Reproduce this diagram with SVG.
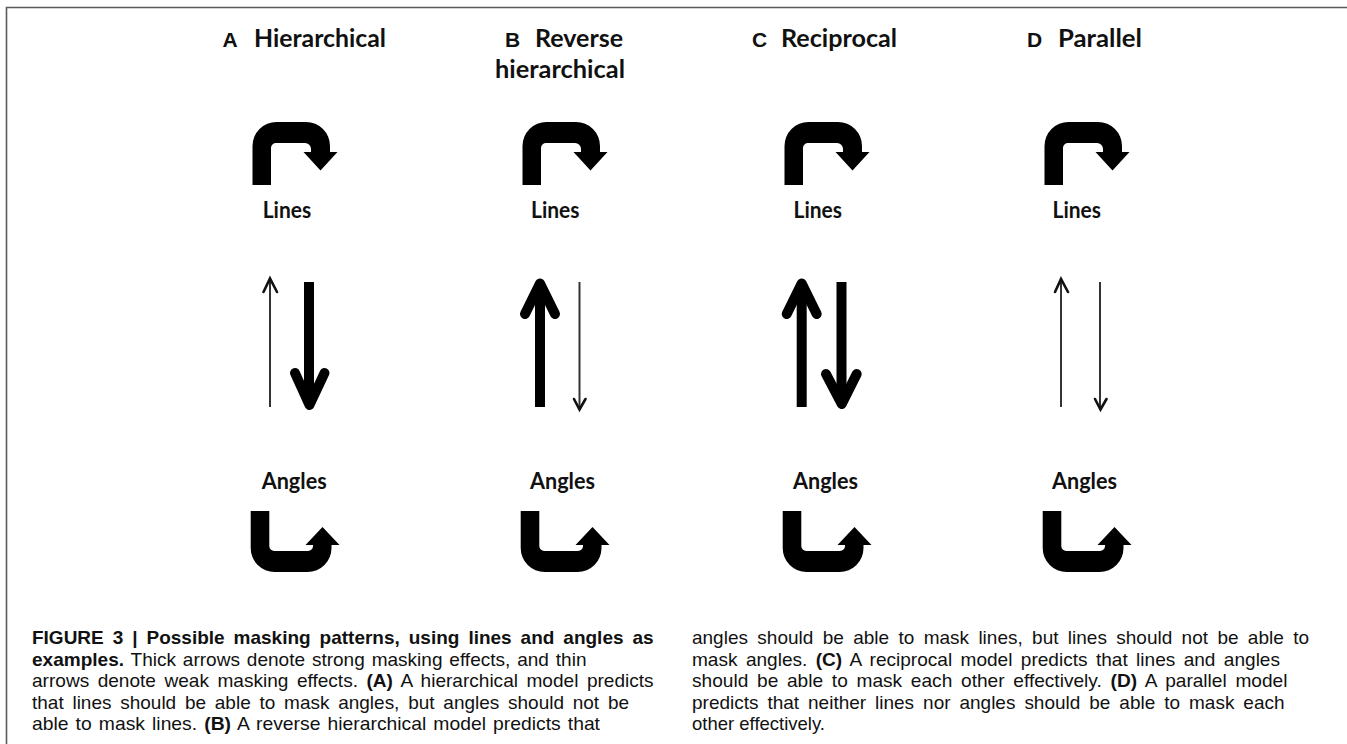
<svg xmlns="http://www.w3.org/2000/svg" xmlns:xlink="http://www.w3.org/1999/xlink" width="1347" height="744" viewBox="0 0 1347 744">
<style>
.frame{fill:none;stroke:#5a5a5a;stroke-width:1.6}
.lt{font-family:"Liberation Sans",Arial,sans-serif;font-weight:700;font-size:21px;fill:#111}
.tt{font-family:Lato,"Open Sans",sans-serif;font-weight:700;font-size:25px;fill:#111}
.nl{font-family:Lato,"Open Sans",sans-serif;font-weight:700;font-size:22px;fill:#111}
.shape{fill:#000}
.thick{fill:none;stroke:#000;stroke-width:10;stroke-linecap:butt}
.thickhead{fill:none;stroke:#000;stroke-width:10;stroke-linecap:round;stroke-linejoin:round}
.thin{fill:none;stroke:#333;stroke-width:2}
.thinhead{fill:none;stroke:#111;stroke-width:2.6;stroke-linecap:round;stroke-linejoin:miter}
.cap{font-family:"Liberation Sans",Arial,sans-serif;font-weight:400;font-size:19px;fill:#111}
.b{font-weight:700}
</style>
<defs>
<path id="turnTop" d="M 252.5 185 V 146 A 24 24 0 0 1 276.5 122 H 306 A 24 24 0 0 1 330 146 V 152 H 337.5 L 320.5 170.5 L 303.5 152 H 311 V 149 A 6 6 0 0 0 305 143 H 276 A 5 5 0 0 0 271 148 V 185 Z"/>
<path id="turnBot" d="M 250.7 511 V 548 A 24 24 0 0 0 274.7 572 H 307.5 A 24 24 0 0 0 331.5 548 V 545 H 339.5 L 322.5 527 L 305.5 545 H 313 V 546 A 5 5 0 0 1 308 551 H 274.3 A 5 5 0 0 1 269.3 546 V 511 Z"/>
</defs>
<rect x="0" y="0" width="1347" height="744" fill="#fff"/>
<path class="frame" d="M 6.5 744 V 7.5 H 1347"/>

<g id="panel-A">
<text class="lt" x="222.5" y="47">A</text>
<text class="tt" x="254" y="47" textLength="132" lengthAdjust="spacingAndGlyphs">Hierarchical</text>
</g>
<g id="panel-B">
<text class="lt" x="505" y="47">B</text>
<text class="tt" x="535" y="47" textLength="88" lengthAdjust="spacingAndGlyphs">Reverse</text>
<text class="tt" x="495" y="78" textLength="130" lengthAdjust="spacingAndGlyphs">hierarchical</text>
</g>
<g id="panel-C">
<text class="lt" x="752" y="47">C</text>
<text class="tt" x="781" y="47" textLength="116" lengthAdjust="spacingAndGlyphs">Reciprocal</text>
</g>
<g id="panel-D">
<text class="lt" x="1027" y="47">D</text>
<text class="tt" x="1058" y="47" textLength="84" lengthAdjust="spacingAndGlyphs">Parallel</text>
</g>

<g id="node-A-lines"><use xlink:href="#turnTop" class="shape"/><text class="nl" x="262.7" y="217.5" textLength="48.5" lengthAdjust="spacingAndGlyphs">Lines</text></g>
<g id="node-A-angles"><text class="nl" x="261.7" y="489" textLength="65" lengthAdjust="spacingAndGlyphs">Angles</text><use xlink:href="#turnBot" class="shape"/></g>
<g id="node-B-lines" transform="translate(270,0)"><use xlink:href="#turnTop" class="shape"/><text class="nl" x="261" y="217.5" textLength="48.5" lengthAdjust="spacingAndGlyphs">Lines</text></g>
<g id="node-B-angles" transform="translate(270,0)"><text class="nl" x="260" y="489" textLength="65" lengthAdjust="spacingAndGlyphs">Angles</text><use xlink:href="#turnBot" class="shape"/></g>
<g id="node-C-lines" transform="translate(532,0)"><use xlink:href="#turnTop" class="shape"/><text class="nl" x="261.5" y="217.5" textLength="48.5" lengthAdjust="spacingAndGlyphs">Lines</text></g>
<g id="node-C-angles" transform="translate(532,0)"><text class="nl" x="261" y="489" textLength="65" lengthAdjust="spacingAndGlyphs">Angles</text><use xlink:href="#turnBot" class="shape"/></g>
<g id="node-D-lines" transform="translate(792,0)"><use xlink:href="#turnTop" class="shape"/><text class="nl" x="260.5" y="217.5" textLength="48.5" lengthAdjust="spacingAndGlyphs">Lines</text></g>
<g id="node-D-angles" transform="translate(792,0)"><text class="nl" x="260" y="489" textLength="65" lengthAdjust="spacingAndGlyphs">Angles</text><use xlink:href="#turnBot" class="shape"/></g>

<g id="connectors">
<path class="thin" d="M 270 407 V 280"/>
<path class="thinhead" d="M 263.5 292 L 270 278.5 L 277 292"/>
<path class="thick" d="M 309 282 V 400"/>
<path class="thickhead" d="M 295 373 L 309.5 405 L 324.5 373"/>
<path class="thick" d="M 540 407 V 290"/>
<path class="thickhead" d="M 525 314 L 540 283.5 L 555 314"/>
<path class="thin" d="M 579.5 282 V 408"/>
<path class="thinhead" d="M 574 399 L 579.5 409.5 L 585.5 399"/>
<path class="thick" d="M 801.7 407 V 290"/>
<path class="thickhead" d="M 786.7 314 L 801.7 283.5 L 816.7 314"/>
<path class="thick" d="M 841.5 282 V 400"/>
<path class="thickhead" d="M 826 374 L 841.7 404 L 856.7 374"/>
<path class="thin" d="M 1061 407 V 280"/>
<path class="thinhead" d="M 1055 292 L 1061 279 L 1068 292"/>
<path class="thin" d="M 1100 282 V 408"/>
<path class="thinhead" d="M 1095 399 L 1100.5 409.5 L 1106.5 399"/>
</g>

<g id="caption">
<text class="cap b" x="32" y="644" word-spacing="3.7" textLength="621.6" lengthAdjust="spacingAndGlyphs">FIGURE 3 | Possible masking patterns, using lines and angles as</text>
<text class="cap" x="32" y="665.5" word-spacing="1.6" textLength="554.5" lengthAdjust="spacingAndGlyphs"><tspan class="b">examples.</tspan> Thick arrows denote strong masking effects, and thin</text>
<text class="cap" x="32" y="687" word-spacing="3.2" textLength="621.6" lengthAdjust="spacingAndGlyphs">arrows denote weak masking effects. <tspan class="b">(A)</tspan> A hierarchical model predicts</text>
<text class="cap" x="32" y="708.5" word-spacing="3.5" textLength="597" lengthAdjust="spacingAndGlyphs">that lines should be able to mask angles, but angles should not be</text>
<text class="cap" x="32" y="730" word-spacing="1.7" textLength="568" lengthAdjust="spacingAndGlyphs">able to mask lines. <tspan class="b">(B)</tspan> A reverse hierarchical model predicts that</text>

<text class="cap" x="692" y="644" word-spacing="4.1" textLength="617" lengthAdjust="spacingAndGlyphs">angles should be able to mask lines, but lines should not be able to</text>
<text class="cap" x="692" y="665.5" word-spacing="3.1" textLength="588" lengthAdjust="spacingAndGlyphs">mask angles. <tspan class="b">(C)</tspan> A reciprocal model predicts that lines and angles</text>
<text class="cap" x="692" y="687" word-spacing="3.4" textLength="595.5" lengthAdjust="spacingAndGlyphs">should be able to mask each other effectively. <tspan class="b">(D)</tspan> A parallel model</text>
<text class="cap" x="692" y="708.5" word-spacing="3.7" textLength="592.5" lengthAdjust="spacingAndGlyphs">predicts that neither lines nor angles should be able to mask each</text>
<text class="cap" x="692" y="730" textLength="133" lengthAdjust="spacingAndGlyphs">other effectively.</text>
</g>
</svg>
